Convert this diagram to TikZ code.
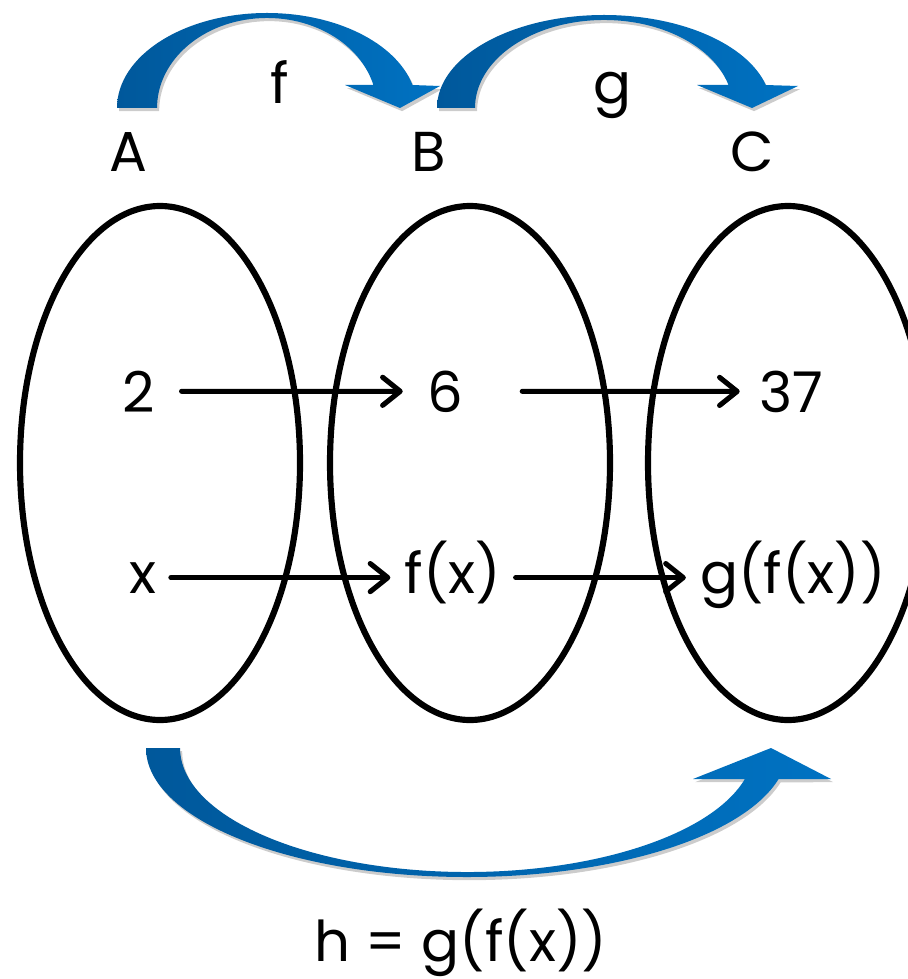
\documentclass[tikz,border=0pt]{standalone}
\usepackage{fontspec}
\setmainfont{Poppins}
\usetikzlibrary{arrows.meta}
\definecolor{arcdark}{RGB}{0,88,155}
\definecolor{arclight}{RGB}{0,114,194}
\tikzset{
  setline/.style={line width=3.5pt},
  elem/.style={inner sep=8pt, anchor=base},
  map/.style={line width=2.9pt, line cap=round, -{Straight Barb[length=10pt,width=16pt,round]}},
  bluearc/.style={left color=arcdark, right color=arclight,
    preaction={fill=black!20, transform canvas={xshift=1.2pt,yshift=-1.8pt}}}
}
\begin{document}
\fontsize{32}{38}\selectfont
\begin{tikzpicture}[x=0.02cm, y=0.02cm]
\useasboundingbox (0,0) rectangle (907,-979);

% the three sets
\draw[setline] (160,-463) ellipse [x radius=140, y radius=257];
\draw[setline] (470,-463) ellipse [x radius=140, y radius=257];
\draw[setline] (788,-463) ellipse [x radius=140, y radius=257];

% curved arrows f, g and h
\path[bluearc] (117,-108) arc[start angle=180, end angle=14, x radius=150, y radius=95]
  -- (440,-86) -- (400,-108) -- (345,-85) -- (373.4,-85)
  arc[start angle=14.8, end angle=180, x radius=110, y radius=90] -- cycle;
\path[bluearc] (437,-108) arc[start angle=180, end angle=14.3, x radius=167, y radius=93]
  -- (798,-86) -- (752,-108) -- (697,-85) -- (728.5,-85)
  arc[start angle=15.15, end angle=180, x radius=129, y radius=88] -- cycle;
\path[bluearc] (146,-748) arc[start angle=180, end angle=346, x radius=321, y radius=129]
  -- (831,-779) -- (771,-748) -- (693,-779) -- (744.9,-779)
  arc[start angle=345.52, end angle=180, x radius=287, y radius=124] -- cycle;

% labels
\node[elem] (lA) at (128,-172) {A};
\node[elem] (lB) at (429,-172) {B};
\node[elem] (lC) at (752,-172) {C};
\node[elem] (lf) at (280,-104) {f};
\node[elem] (lg) at (612,-104) {g};

% elements
\node[elem] (n2) at (139,-412) {2};
\node[elem] (n6) at (445,-412) {6};
\node[elem] (n37) at (791,-412) {37};
\node[elem] (nx) at (143,-593) {x};
\node[elem] (nfx) at (453,-593) {f(x)};
\node[elem] (ngfx) at (793,-593) {g(f(x))};

\draw[map, shorten <=0.24cm, shorten >=0.2cm] (n2) -- (n6);
\draw[map, shorten <=0.9cm, shorten >=0.1cm] (n6) -- (n37);
\draw[map] (nx.mid east) -- (nfx.mid west);
\draw[map] (nfx.mid east) -- (ngfx.mid west);

\node[elem] (nh) at (461,-961) {h = g(f(x))};
\end{tikzpicture}
\end{document}
